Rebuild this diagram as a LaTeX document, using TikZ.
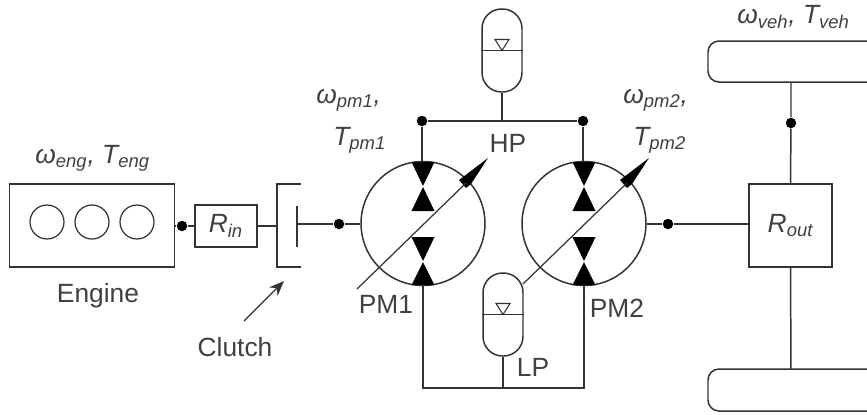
\documentclass[tikz,border=0pt]{standalone}
\usepackage{fontspec}
\setmainfont{Liberation Sans}
\usetikzlibrary{arrows.meta}
\definecolor{ink}{HTML}{333333}
\definecolor{lettering}{HTML}{404040}
\newcommand{\qty}[2]{{\itshape #1\textsubscript{#2}}}
\tikzset{
    wire/.style={draw=ink,line width=0.85pt},
    blk/.style={wire,rectangle,inner sep=0pt},
    accu/.style={wire,rectangle,rounded corners=0.39cm,inner sep=0pt,minimum width=0.8cm,minimum height=1.66cm},
    pumpc/.style={wire,circle,inner sep=0pt,minimum size=2.48cm},
    cyl/.style={wire,circle,inner sep=0pt,minimum size=0.68cm,line width=0.7pt},
    jdot/.style={circle,fill=black,inner sep=0pt,minimum size=0.21cm},
    lbl/.style={text=lettering,font=\fontsize{15}{18}\selectfont,inner sep=0pt},
}

\begin{document}
\begin{tikzpicture}[x=0.02cm,y=-0.02cm]
    \useasboundingbox (0,0) rectangle (867,414);

    % engine side
    \node[blk,minimum width=3.3cm,minimum height=1.66cm] (engine) at (92,225.5) {};
    \foreach \i/\cx in {a/47,b/92,c/137} {
        \node[cyl] (cyl\i) at (\cx,222) {};
    }
    \node[blk,minimum width=1.24cm,minimum height=0.84cm] (rin) at (226,226) {};
    \node[lbl] at (rin) {\qty{R}{in}};
    \node[jdot] (dotin) at (182,226) {};
    \coordinate (clutchin) at (277,226);
    \coordinate (plate) at (297,224);
    \draw[wire] (engine.east |- dotin) -- (dotin) -- (rin.west);
    \draw[wire] (rin.east) -- (clutchin);
    \draw[wire] (301,184) -| (277,267) -- (301,267);
    \draw[wire] (297,206) -- (297,247);

    % the two pumps
    \foreach \n/\cx in {pma/423,pmb/584} {
        \node[pumpc] (\n) at (\cx,223.5) {};
        \begin{scope}[shift={(\cx-423,0)}]
            \fill[black] (411.5,162) -- (434.5,162) -- (423,186) -- cycle;
            \fill[black] (411.5,211) -- (434.5,211) -- (423,187) -- cycle;
            \fill[black] (411.5,237) -- (434.5,237) -- (423,261) -- cycle;
            \fill[black] (411.5,285) -- (434.5,285) -- (423,262) -- cycle;
            \fill[black] (488,158) -- (459,180) -- (466,188) -- (471,184) -- cycle;
        \end{scope}
    }
    \node[jdot] (dothpa) at (422,121) {};
    \node[jdot] (dothpb) at (583,121) {};
    \node[jdot] (dotpma) at (339,224) {};
    \node[jdot] (dotpmb) at (668,224) {};
    \draw[wire] (dothpa) -- (dothpb);
    \draw[wire] (dothpa) -- (dothpa |- pma.north);
    \draw[wire] (dothpb) -- (dothpb |- pmb.north);
    \draw[wire] (plate) -- (dotpma) -- (pma.west |- dotpma);

    % accumulators
    \node[accu] (hpacc) at (502,50.5) {};
    \node[accu] (lpacc) at (503,314.5) {};
    \foreach \a in {hpacc,lpacc} {
        \draw[wire] (\a.west) -- (\a.east);
        \draw[wire,line width=0.6pt] ([xshift=-0.14cm,yshift=0.22cm]\a.center) -- ([xshift=0.14cm,yshift=0.22cm]\a.center) -- (\a.center) -- cycle;
    }
    \coordinate (hpbus) at (hpacc.south |- dothpa);
    \coordinate (lpbus) at (lpacc.south |- 0,388);
    \coordinate (lowa) at (423,388);
    \coordinate (lowb) at (584,388);
    \draw[wire] (hpacc.south) -- (hpbus);
    \draw[wire] (lpacc.south) -- (lpbus);
    \draw[wire] (lowa |- pma.south) -- (lowa) -- (lowb) -- (lowb |- pmb.south);

    % variable displacement strokes
    \coordinate (stroka) at (357,289);
    \coordinate (strokb) at (523,284);
    \draw[wire,line width=0.7pt] (stroka) -- (466,183);
    \draw[wire,line width=0.7pt] (strokb) -- (627,183);

    % output side and wheels
    \node[blk,minimum width=1.66cm,minimum height=1.66cm] (rout) at (790.5,225.5) {};
    \node[lbl] at (rout) {\qty{R}{out}};
    \draw[wire] (pmb.east |- dotpmb) -- (dotpmb) -- (rout.west |- dotpmb);
    \draw[wire,rounded corners=0.22cm] (870,41) -- (708,41) -- (708,82) -- (870,82);
    \draw[wire,rounded corners=0.22cm] (870,369) -- (708,369) -- (708,411) -- (870,411);
    \node[jdot] (dotveh) at (791,123) {};
    \coordinate (wheeltop) at (791,82);
    \coordinate (wheelbot) at (791,369);
    \draw[wire] (wheeltop) -- (dotveh) -- (rout.north);
    \draw[wire] (rout.south) -- (wheelbot);

    % clutch pointer
    \coordinate (cltail) at (244,321);
    \coordinate (clhead) at (284,281);
    \draw[wire,line width=0.7pt,-{Stealth[length=0.3cm,width=0.24cm]}] (cltail) -- (clhead);

    % labels
    \node[lbl] (engname) at (98,296) {Engine};
    \node[lbl] (clname) at (235,347) {Clutch};
    \node[lbl] (hpname) at (508,143) {HP};
    \node[lbl] (lpname) at (533,367) {LP};
    \node[lbl] (pmaname) at (386,304) {PM1};
    \node[lbl] (pmbname) at (617,308) {PM2};
    \node[lbl,anchor=west] (engqty) at (35,158) {\qty{ω}{eng}\textit{,} \qty{T}{eng}};
    \node[lbl,anchor=west] (pmaw) at (316,100) {\qty{ω}{pm1}\textit{,}};
    \node[lbl,anchor=west] (pmat) at (333,140) {\qty{T}{pm1}};
    \node[lbl,anchor=west] (pmbw) at (623,100) {\qty{ω}{pm2}\textit{,}};
    \node[lbl,anchor=west] (pmbt) at (633,140) {\qty{T}{pm2}};
    \node[lbl,anchor=west] (vehqty) at (737,17) {\qty{ω}{veh}\textit{,} \qty{T}{veh}};
\end{tikzpicture}
\end{document}
